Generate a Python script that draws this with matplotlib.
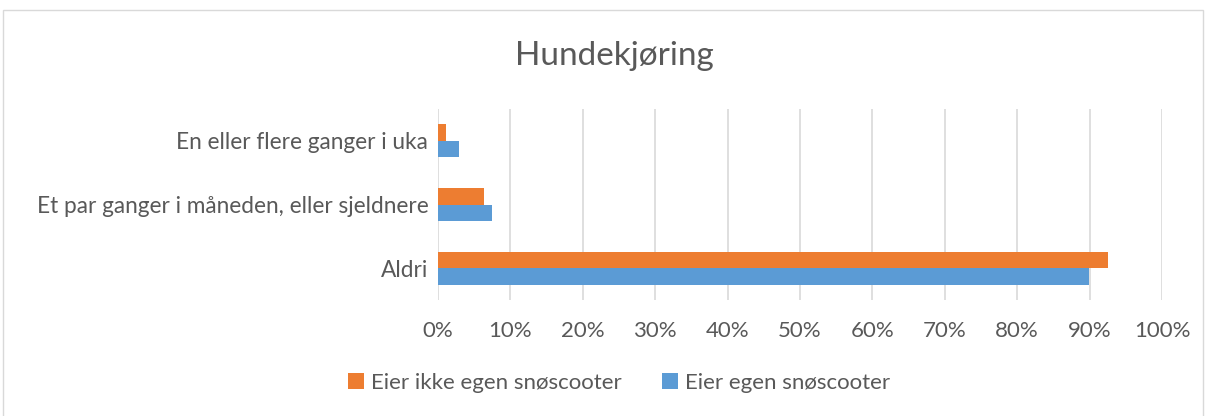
import matplotlib.pyplot as plt
import numpy as np
from matplotlib.patches import Rectangle

# Data
kategorier = ['Aldri', 'Et par ganger i måneden, eller sjeldnere', 'En eller flere ganger i uka']
eier_ikke = [92.6, 6.4, 1.1]   # Eier ikke egen snøscooter
eier = [89.9, 7.4, 2.9]        # Eier egen snøscooter
x_ticks = [0, 10, 20, 30, 40, 50, 60, 70, 80, 90, 100]

ORANGE = '#ED7D31'
BLUE = '#5B9BD5'
TEXT = '#595959'

plt.rcParams['font.family'] = ['Lato', 'DejaVu Sans']

fig = plt.figure(figsize=(12.08, 4.16), dpi=100)
ax = fig.add_axes([438 / 1208, (416 - 300) / 416, (1162 - 438) / 1208, 191 / 416])

y = np.arange(len(kategorier))
h = 0.26
ax.barh(y - h / 2, eier, height=h, color=BLUE, label='Eier egen snøscooter', zorder=3)
ax.barh(y + h / 2, eier_ikke, height=h, color=ORANGE, label='Eier ikke egen snøscooter', zorder=3)

ax.set_xlim(0, 100)
ax.set_ylim(-0.5, 2.5)
ax.set_xticks(x_ticks)
ax.set_xticklabels([f'{t}%' for t in x_ticks])
ax.set_yticks(y)
ax.set_yticklabels(kategorier)
ax.tick_params(axis='both', length=0, labelsize=16, colors=TEXT)
ax.tick_params(axis='y', labelsize=16.3, pad=7)
ax.tick_params(axis='x', pad=15)
ax.grid(axis='x', color='#D9D9D9', linewidth=1.2, zorder=0)
for s in ax.spines.values():
    s.set_visible(False)

fig.suptitle('Hundekjøring', x=614 / 1208, y=1 - 56 / 416, va='center',
             fontsize=24, color=TEXT)

# ramme rundt diagrammet
fig.patches.append(Rectangle((3 / 1208, -0.01), 1200 / 1208, (416 - 10) / 416 + 0.01,
                             transform=fig.transFigure, fill=False,
                             edgecolor='#D9D9D9', linewidth=1))

handles, labels = ax.get_legend_handles_labels()
fig.legend(handles[::-1], labels[::-1], loc='center', bbox_to_anchor=(619 / 1208, 1 - 383 / 416),
           ncol=2, frameon=False, fontsize=16, labelcolor=TEXT,
           handlelength=0.75, handleheight=0.75, handletextpad=0.3, columnspacing=1.8)

fig.savefig('out.png', dpi=100)
